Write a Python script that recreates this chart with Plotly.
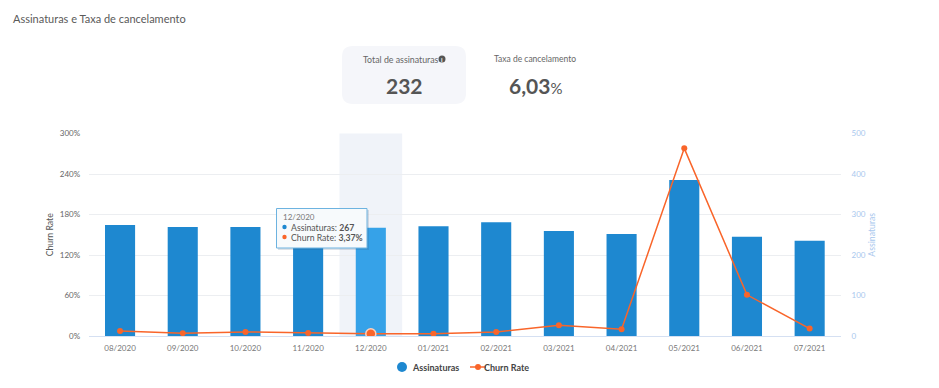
import plotly.graph_objects as go

W, H = 939, 388
months = ["08/2020","09/2020","10/2020","11/2020","12/2020","01/2021","02/2021","03/2021","04/2021","05/2021","06/2021","07/2021"]
subscriptions = [274, 269, 269, 264, 267, 271, 281, 259, 252, 385, 245, 235]
churn_rate = [7.4, 4.2, 6.0, 4.6, 3.37, 3.5, 6.0, 16, 10, 278, 61, 11]
left_ticks = [0, 60, 120, 180, 240, 300]
right_ticks = [0, 100, 200, 300, 400, 500]

BLUE = "#1e88d0"
LIGHT_BLUE = "#36a2e8"
ORANGE = "#f9652a"
FONT = "Lato"
HL = 4

def px(x): return x / W
def py(y): return 1 - y / H

def round_rect(x0, y0, x1, y1, r):
    a, b, c, d = px(x0), py(y0), px(x1), py(y1)
    rx, ry = r / W, r / H
    return (f"M{a+rx},{b} L{c-rx},{b} Q{c},{b} {c},{b-ry} L{c},{d+ry} Q{c},{d} {c-rx},{d} "
            f"L{a+rx},{d} Q{a},{d} {a},{d+ry} L{a},{b-ry} Q{a},{b} {a+rx},{b} Z")

fig = go.Figure()
fig.add_bar(x=months, y=subscriptions, yaxis="y", width=0.48, showlegend=False,
            marker=dict(color=[LIGHT_BLUE if i == HL else BLUE for i in range(len(months))],
                        line=dict(width=0)), name="Assinaturas")
fig.add_scatter(x=months, y=churn_rate, yaxis="y2", mode="lines+markers", name="Churn Rate", showlegend=False,
                line=dict(color=ORANGE, width=1.5),
                marker=dict(color=ORANGE, opacity=1,
                            size=[10 if i == HL else 6 for i in range(len(months))],
                            line=dict(color=["#fbd3c2" if i == HL else ORANGE for i in range(len(months))],
                                      width=[1.5 if i == HL else 0 for i in range(len(months))])))

def ann(text, x, y, size, color="#555", xanchor="center", **kw):
    return dict(text=text, xref="paper", yref="paper", x=px(x), y=py(y), showarrow=False,
                xanchor=xanchor, yanchor="middle", font=dict(family=FONT, size=size, color=color), **kw)

def dot(cx, cy, r, color, layer="above"):
    return dict(type="circle", xref="paper", yref="paper", x0=px(cx - r), x1=px(cx + r), y0=py(cy + r), y1=py(cy - r),
                fillcolor=color, line_width=0, layer=layer)

annotations = [
    ann("Assinaturas e Taxa de cancelamento", 11, 18, 11, "#5a5a5a", "left"),
    ann("Total de assinaturas", 401, 59, 8.8, "#666"),
    ann("<b>i</b>", 442, 59, 6, "#fff"),
    ann("<b>232</b>", 404, 85, 21, "#555"),
    ann("Taxa de cancelamento", 535, 59, 8.5, "#666"),
    ann("<b>6,03</b><span style='font-size:15px'>%</span>", 536, 85, 21, "#555"),
    # tooltip
    ann(months[HL], 281, 217, 8, "#777", "left"),
    ann(f"Assinaturas: <b>{subscriptions[HL]}</b>", 289, 227, 8.7, "#555", "left"),
    ann("Churn Rate: <b>3,37%</b>", 289, 237, 8.7, "#555", "left"),
    # legend
    ann("<b>Assinaturas</b>", 410, 367, 9, "#444", "left"),
    ann("<b>Churn Rate</b>", 482, 367, 9, "#444", "left"),
]

shapes = [
    dict(type="rect", xref="x", yref="paper", x0=HL - 0.5, x1=HL + 0.5, y0=py(336), y1=py(133.5),
         fillcolor="#f0f3f9", line_width=0, layer="below"),
    dict(type="path", xref="paper", yref="paper", path=round_rect(342, 46, 466, 104, 11),
         fillcolor="#f5f6fa", line_width=0, layer="below"),
    dot(442, 59, 3.5, "#555", "below"),
    # tooltip box and soft shadow
    dict(type="rect", xref="paper", yref="paper", x0=px(278), x1=px(369), y0=py(250), y1=py(210),
         fillcolor="rgba(60,90,120,0.18)", line_width=0, layer="above"),
    dict(type="rect", xref="paper", yref="paper", x0=px(276.5), x1=px(367), y0=py(248), y1=py(208.5),
         fillcolor="#f7fafc", line=dict(color="#6db3e0", width=1), layer="above"),
    dot(284.5, 227, 2.2, BLUE),
    dot(284.5, 237, 2.2, ORANGE),
    # legend symbols
    dot(402, 367, 5, BLUE),
    dict(type="line", xref="paper", yref="paper", x0=px(470), x1=px(486), y0=py(367), y1=py(367),
         line=dict(color=ORANGE, width=1.5), layer="above"),
    dot(478, 367, 3, ORANGE),
]

fig.update_layout(
    width=W, height=H, autosize=False, margin=dict(l=0, r=0, t=0, b=0, autoexpand=False),
    paper_bgcolor="white", plot_bgcolor="white", showlegend=False,
    font=dict(family=FONT, size=9, color="#666"),
    xaxis=dict(domain=[px(88.7), px(841)], type="category", categoryorder="array", categoryarray=months,
               range=[-0.5, 11.5], autorange=False,
               showgrid=False, showline=True, linecolor="#d5e0f2", linewidth=1, zeroline=False,
               ticks="outside", ticklen=4, tickcolor="rgba(0,0,0,0)", automargin=False,
               tickfont=dict(family=FONT, size=8, color="#777")),
    yaxis2=dict(domain=[py(336), py(133.5)], range=[0, 300], overlaying="y", side="left", tickmode="array",
                tickvals=left_ticks, ticktext=[f"{v}%" for v in left_ticks], showgrid=False,
                zeroline=False, showline=False, ticks="outside", ticklen=6, tickcolor="rgba(0,0,0,0)",
                automargin=False, tickfont=dict(family=FONT, size=8, color="#666"),
                title=dict(text="Churn Rate", standoff=4, font=dict(family=FONT, size=8.7, color="#555"))),
    yaxis=dict(domain=[py(336), py(133.5)], range=[0, 500], side="right", tickmode="array",
               tickvals=right_ticks, showgrid=True, gridcolor="#eceef1", gridwidth=1, zeroline=False,
               showline=False, ticks="outside", ticklen=8, tickcolor="rgba(0,0,0,0)", automargin=False,
               tickfont=dict(family=FONT, size=8, color="#a9c8ee"),
               title=dict(text="Assinaturas", standoff=4, font=dict(family=FONT, size=8.7, color="#a9c8ee"))),
    annotations=annotations, shapes=shapes,
    hovermode=False,
)
fig.write_html("out.html", config=dict(displayModeBar=False),
               post_script="document.body.style.margin='0';")
